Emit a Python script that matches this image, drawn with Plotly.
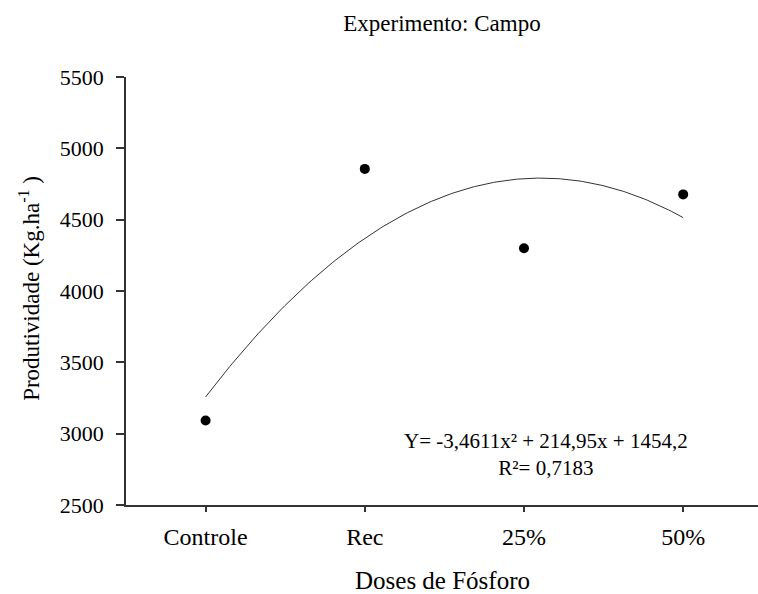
import numpy as np
import plotly.graph_objects as go

# Treatments and their position on the dose scale used by the regression
categories = ["Controle", "Rec", "25%", "50%"]
dose_x = [10, 20, 30, 40]
produtividade = [3092, 4856, 4300, 4677]

# Quadratic regression coefficients (Y = a x^2 + b x + c)
coef_a = -3.4611
coef_b = 214.95
coef_c = 1454.2
r2_label = "0,7183"

y_ticks = [2500, 3000, 3500, 4000, 4500, 5000, 5500]

serif = "Times New Roman"

x_fit = np.linspace(min(dose_x), max(dose_x), 200)
y_fit = coef_a * x_fit ** 2 + coef_b * x_fit + coef_c

fig = go.Figure()
fig.add_trace(go.Scatter(
    x=x_fit, y=y_fit, mode="lines",
    line=dict(color="#333333", width=1),
    hoverinfo="skip", showlegend=False,
))
fig.add_trace(go.Scatter(
    x=dose_x, y=produtividade, mode="markers",
    marker=dict(color="black", size=10),
    showlegend=False,
))

fig.update_layout(
    width=758, height=594,
    margin=dict(l=126, r=0, t=77, b=89),
    paper_bgcolor="white", plot_bgcolor="white",
    font=dict(family=serif, size=22, color="black"),
    title=dict(
        text="Experimento: Campo", x=(126 + 758) / 2 / 758, xanchor="center",
        y=1 - 23 / 594, yanchor="middle",
        font=dict(family=serif, size=23, color="black"),
    ),
    xaxis=dict(
        range=[5, 44.7], tickmode="array", tickvals=dose_x, ticktext=categories,
        showline=True, linecolor="#333333", linewidth=1.5,
        ticks="outside", ticklen=5, tickwidth=1.5, tickcolor="#333333",
        showgrid=False, zeroline=False, ticklabelstandoff=4,
        tickfont=dict(family=serif, size=24),
    ),
    yaxis=dict(
        range=[2500, 5500], tickmode="array", tickvals=y_ticks,
        showline=True, linecolor="#333333", linewidth=1.5,
        ticks="outside", ticklen=8, tickwidth=1.5, tickcolor="#333333",
        showgrid=False, zeroline=False, ticklabelstandoff=8,
        tickfont=dict(family=serif, size=22),
    ),
    annotations=[
        dict(
            text="Doses de Fósforo", xref="paper", yref="paper",
            x=0.5, y=0, yanchor="middle", yshift=-75, showarrow=False,
            font=dict(family=serif, size=25),
        ),
        dict(
            text="Produtividade (Kg.ha<sup>-1</sup> )", xref="paper", yref="paper",
            x=0, xanchor="center", xshift=-96, y=0.505, yanchor="middle",
            textangle=-90, showarrow=False,
            font=dict(family=serif, size=23),
        ),
        dict(
            text="Y= -3,4611x² + 214,95x + 1454,2<br>R²= " + r2_label,
            xref="x", yref="y", x=31.4, y=2855, yanchor="middle",
            showarrow=False, align="center",
            font=dict(family=serif, size=21),
        ),
    ],
)

fig.write_html("out.html")
